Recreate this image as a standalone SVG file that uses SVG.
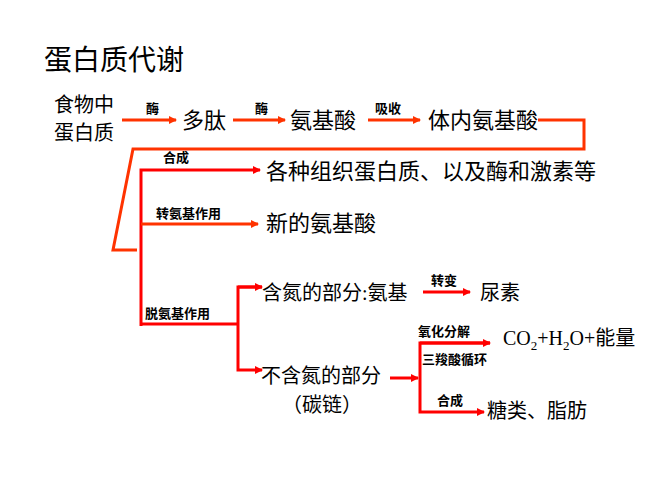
<svg xmlns="http://www.w3.org/2000/svg" width="654" height="490" viewBox="0 0 654 490">
<defs>
<marker id="ao" markerWidth="8" markerHeight="8" refX="7" refY="4" orient="auto" markerUnits="userSpaceOnUse"><path d="M0,0L8,4L0,8z" fill="#ff3300"/></marker>
<marker id="ar" markerWidth="8" markerHeight="8" refX="7" refY="4" orient="auto" markerUnits="userSpaceOnUse"><path d="M0,0L8,4L0,8z" fill="#ff0000"/></marker>
</defs>
<style>
text{font-family:"Liberation Serif","Noto Sans CJK SC",serif;fill:#000}
.t{font-size:20px}
.b{font-size:22px}
.s{font-size:13px;font-weight:bold}
.o{stroke:#ff3300;stroke-width:3;fill:none}
.r{stroke:#ff0000;stroke-width:3;fill:none}
</style>
<rect width="654" height="490" fill="#fff"/>
<text x="44" y="70" style="font-size:28px">蛋白质代谢</text>
<g id="connectors">
<line class="o" x1="122" y1="120" x2="176" y2="120" marker-end="url(#ao)"/>
<line class="o" x1="233" y1="120" x2="285" y2="120" marker-end="url(#ao)"/>
<line class="o" x1="368" y1="120" x2="420" y2="120" marker-end="url(#ao)"/>
<polyline class="o" points="538,120 584,120 584,149 133,149 113,250 137,250"/>
<polyline class="r" points="141,326 141,170 260,170" marker-end="url(#ar)"/>
<line class="o" x1="141" y1="224" x2="258" y2="224" marker-end="url(#ao)"/>
<line class="r" x1="141" y1="324" x2="237" y2="324"/>
<polyline class="r" points="262,287 238,287 238,370 262,370" marker-end="url(#ar)"/>
<line class="r" x1="238" y1="287" x2="262" y2="287" marker-end="url(#ar)"/>
<line class="r" x1="423" y1="292" x2="470" y2="292" marker-end="url(#ar)"/>
<line class="r" x1="390" y1="378" x2="418" y2="378" marker-end="url(#ar)"/>
<polyline class="r" points="490,343 420,343 420,412 484,412" marker-end="url(#ar)"/>
<line class="r" x1="420" y1="343" x2="490" y2="343" marker-end="url(#ar)"/>
<text class="s" x="146" y="113">酶</text>
<text class="s" x="255" y="113">酶</text>
<text class="s" x="375" y="113">吸收</text>
<text class="s" x="163" y="162">合成</text>
<text class="s" x="156" y="218">转氨基作用</text>
<text class="s" x="145" y="318">脱氨基作用</text>
<text class="s" x="431" y="285">转变</text>
<text class="s" x="418" y="336">氧化分解</text>
<text class="s" x="422" y="364">三羧酸循环</text>
<text class="s" x="437" y="405">合成</text>
</g>
<g id="n1"><text class="t" x="54" y="112">食物中</text><text class="t" x="54" y="140">蛋白质</text></g>
<g id="n2"><text class="b" x="182" y="128">多肽</text></g>
<g id="n3"><text class="b" x="290" y="128">氨基酸</text></g>
<g id="n4"><text class="b" x="428" y="128">体内氨基酸</text></g>
<g id="n5"><text class="b" x="266" y="179">各种组织蛋白质、以及酶和激素等</text></g>
<g id="n6"><text class="b" x="266" y="231">新的氨基酸</text></g>
<g id="n7"><text class="t" x="262" y="300">含氮的部分:氨基</text></g>
<g id="n8"><text class="t" x="480" y="300">尿素</text></g>
<g id="n9"><text class="t" x="261" y="383">不含氮的部分</text><text class="t" x="282" y="412">（碳链）</text></g>
<g id="n10"><text class="t" x="503" y="345">CO<tspan font-size="13" dy="5">2</tspan><tspan dy="-5">+H</tspan><tspan font-size="13" dy="5">2</tspan><tspan dy="-5">O+能量</tspan></text></g>
<g id="n11"><text class="t" x="487" y="418">糖类、脂肪</text></g>
</svg>
